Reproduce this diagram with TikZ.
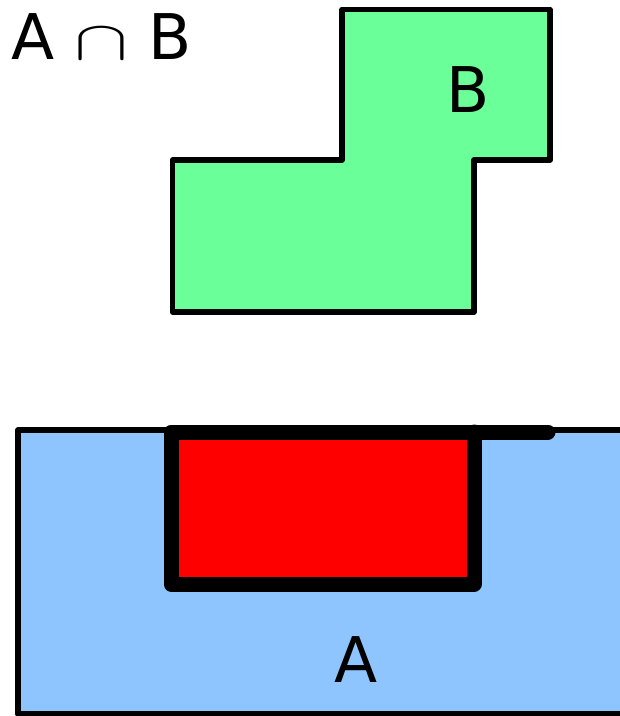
\documentclass[tikz,border=0pt]{standalone}
\usepackage{graphicx}
\usepackage{fontspec}
\setmainfont{DejaVu Sans}
\definecolor{setgreen}{RGB}{107,255,153}
\definecolor{setblue}{RGB}{143,197,255}
\definecolor{setred}{RGB}{255,0,0}
\tikzset{
  outline/.style={draw=black, line width=5.5pt, line join=round},
  thickline/.style={draw=black, line width=15pt, line join=round, line cap=round},
  bigtext/.style={inner sep=0pt, font=\fontsize{63}{63}\selectfont}
}
\begin{document}
\begin{tikzpicture}[x=1pt, y=-1pt]
\useasboundingbox (0,0) rectangle (620,716);
% set A
\path[outline, fill=setblue] (18,430) -- (640,430) -- (640,714) -- (18,714) -- cycle;
% intersection
\fill[setred] (171,432) rectangle (474,584);
\draw[thickline] (548,432) -- (171,432) -- (171,584) -- (474,584) -- (474,432);
% set B
\path[outline, fill=setgreen] (172.5,160) -- (342,160) -- (342,9.5) -- (550,9.5) -- (550,160) -- (474,160) -- (474,312) -- (172.5,312) -- cycle;
% labels
\node[bigtext, anchor=base west] (title) at (11,59) {A\hspace{20.4pt}\resizebox{54pt}{31pt}{\Huge$\cap$}\hspace{19.5pt}B};
\node[bigtext, anchor=base] (labelB) at (468,112) {B};
\node[bigtext, anchor=base] (labelA) at (356.5,682) {A};
\end{tikzpicture}
\end{document}
